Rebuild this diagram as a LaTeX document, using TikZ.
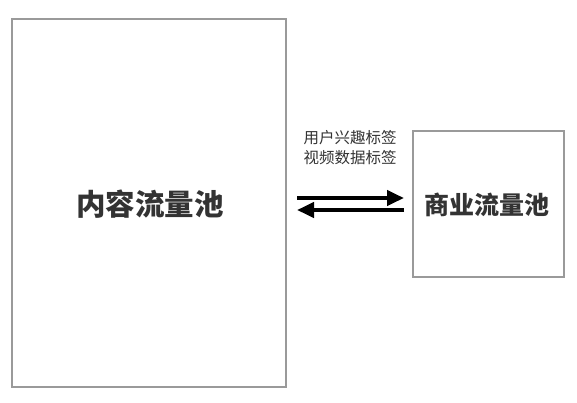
\documentclass[tikz,border=0pt]{standalone}
\usepackage{fontspec}
\newfontfamily\cjk{Noto Sans CJK SC}
\usetikzlibrary{arrows.meta}
\definecolor{boxgray}{HTML}{9A9A9A}
\definecolor{txt}{HTML}{333333}
\tikzset{
  pool/.style={draw=boxgray, line width=1.3pt, fill=white, inner sep=0pt},
  flow/.style={line width=4pt, black, -{Triangle[length=17pt,width=15pt]}},
}
\begin{document}
\begin{tikzpicture}[x=1pt,y=-1pt]
\useasboundingbox (0,0) rectangle (577,402);
\fill[white] (0,0) rectangle (577,402);
\node[pool, minimum width=274pt, minimum height=368pt] (content) at (149,203) {};
\node[font=\cjk\bfseries\fontsize{29.5}{32}\selectfont, text=txt] (contentlbl) at (150,204) {内容流量池};
\node[pool, minimum width=151pt, minimum height=146pt] (biz) at (488.5,204) {};
\node[font=\cjk\bfseries\fontsize{25}{28}\selectfont, text=txt] (bizlbl) at (486.5,205) {商业流量池};
\node[font=\cjk\fontsize{15.5}{20}\selectfont, text=txt, align=center] (lbl) at (350,148) {用户兴趣标签\\视频数据标签};
\coordinate (a1) at (297,198);
\coordinate (a2) at (404,198);
\coordinate (b1) at (404,210);
\coordinate (b2) at (297,210);
\draw[flow] (a1) -- (a2);
\draw[flow] (b1) -- (b2);
\end{tikzpicture}
\end{document}
